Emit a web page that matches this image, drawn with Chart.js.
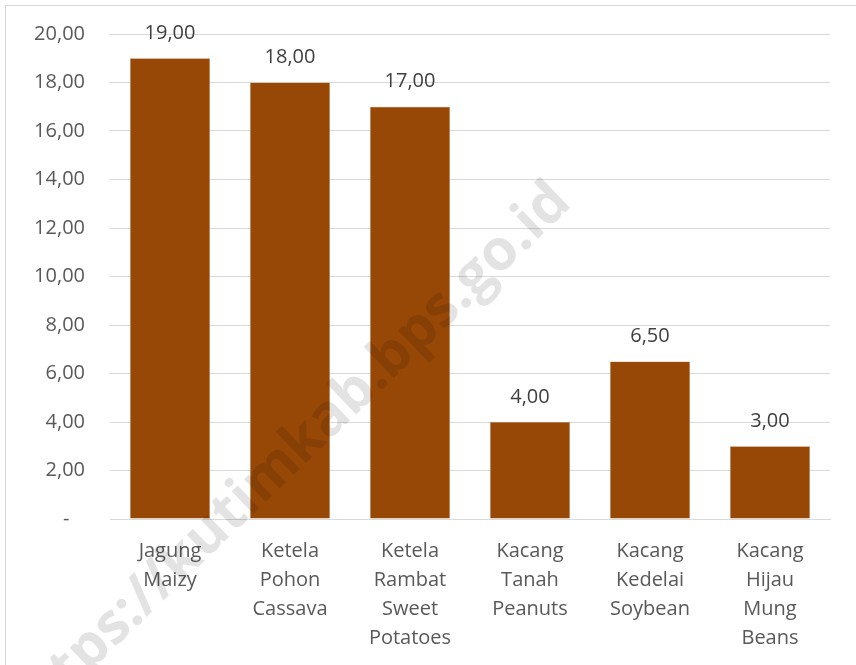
<!DOCTYPE html>
<html>
<head>
<meta charset="utf-8">
<script src="https://cdn.jsdelivr.net/npm/chart.js@4"></script>
<style>
  html, body { margin: 0; padding: 0; background: #fff; }
  #wrap { width: 856px; height: 665px; }
</style>
</head>
<body>
<div id="wrap"><canvas id="cropChart" width="856" height="665"></canvas></div>
<script>
// categories (multi-line labels) and values
var categories = [
  ["Jagung", "Maizy"],
  ["Ketela", "Pohon", "Cassava"],
  ["Ketela", "Rambat", "Sweet", "Potatoes"],
  ["Kacang", "Tanah", "Peanuts"],
  ["Kacang", "Kedelai", "Soybean"],
  ["Kacang", "Hijau", "Mung", "Beans"]
];
var values = [19.00, 18.00, 17.00, 4.00, 6.50, 3.00];
var watermark = "https://kutimkab.bps.go.id";

var FONT = "'Open Sans', 'Noto Sans', sans-serif";

function fmt(v) {
  if (v === 0) return "-   ";
  return v.toFixed(2).replace(".", ",");
}

// frame, value labels, watermark
var extras = {
  id: "extras",
  beforeDraw: function(chart) {
    var ctx = chart.ctx;
    ctx.save();
    ctx.fillStyle = "#fff";
    ctx.fillRect(0, 0, chart.width, chart.height);
    ctx.strokeStyle = "#d9d9d9";
    ctx.lineWidth = 1;
    ctx.strokeRect(5.5, 5.5, 900, 700);
    ctx.restore();
  },
  afterDatasetsDraw: function(chart) {
    var ctx = chart.ctx;
    var meta = chart.getDatasetMeta(0);
    ctx.save();
    ctx.font = "20px " + FONT;
    ctx.fillStyle = "#404040";
    ctx.textAlign = "center";
    ctx.textBaseline = "middle";
    meta.data.forEach(function(bar, i) {
      ctx.fillText(fmt(values[i]), bar.x, bar.y - 25);
    });
    ctx.restore();
  },
  afterDraw: function(chart) {
    var ctx = chart.ctx;
    ctx.save();
    ctx.translate(562, 193);
    ctx.rotate(-44 * Math.PI / 180);
    ctx.font = "bold 57px " + FONT;
    ctx.fillStyle = "rgba(0,0,0,0.11)";
    ctx.textAlign = "right";
    ctx.textBaseline = "middle";
    ctx.fillText(watermark, 0, 0);
    ctx.restore();
  }
};

var ctx = document.getElementById("cropChart").getContext("2d");
var myBarChart = new Chart(ctx, {
  type: "bar",
  data: {
    labels: categories,
    datasets: [{
      data: values,
      backgroundColor: "#974706",
      borderColor: "#c98a5a",
      borderWidth: 0.6,
      categoryPercentage: 1,
      barPercentage: 0.667
    }]
  },
  options: {
    responsive: false,
    animation: false,
    layout: { padding: { top: 34, right: 26, left: 0, bottom: 0 } },
    plugins: {
      legend: { display: false },
      tooltip: { enabled: false }
    },
    scales: {
      x: {
        grid: { display: false, drawTicks: false },
        border: { display: true, color: "#d9d9d9" },
        ticks: {
          color: "#595959",
          font: { family: FONT, size: 20, lineHeight: 1.45 },
          padding: 18,
          maxRotation: 0,
          autoSkip: false
        },
        afterFit: function(scale) { scale.height = 146; }
      },
      y: {
        min: 0,
        max: 20,
        grid: { color: "#d9d9d9", drawTicks: true, tickLength: 22, tickColor: "rgba(0,0,0,0)" },
        border: { display: false },
        ticks: {
          stepSize: 2,
          color: "#595959",
          font: { family: FONT, size: 20 },
          padding: 3,
          callback: function(v) { return fmt(v); }
        },
        afterFit: function(scale) { scale.width = 110; }
      }
    }
  },
  plugins: [extras]
});
</script>
</body>
</html>
